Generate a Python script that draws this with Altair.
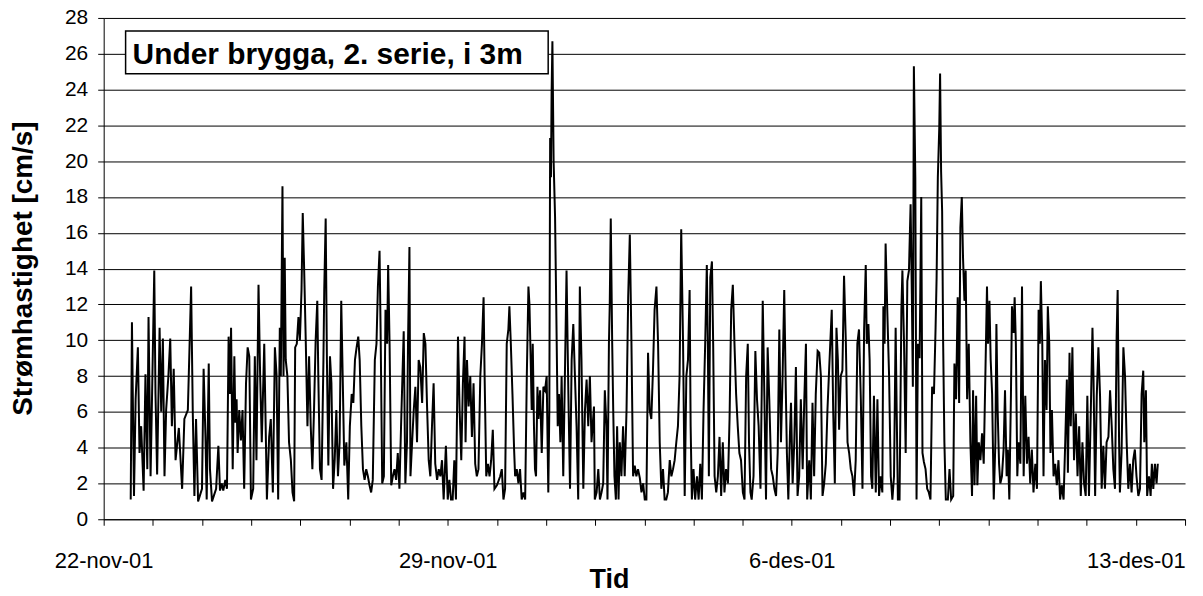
import altair as alt
import pandas as pd

# ---- data (hours after 22-nov-2001 00:00, speed cm/s) ----
hours = [
13.2,13.8,14.8,15.6,16.7,17.5,18.3,19.5,20.4,21.3,21.9,22.9,23.5,24.7,25.3,26.1,27.3,28.1,28.9,29.7,
30.5,31.6,32.5,33.3,34.2,35.1,36.7,38.3,39.4,41.1,42.7,43.5,44.3,45.1,46.1,48.0,48.8,49.7,50.3,51.3,
51.9,52.9,54.9,56.0,56.8,57.6,58.4,59.4,60.2,61.0,61.7,62.2,63.0,63.8,64.3,64.9,65.4,66.2,67.0,67.8,
68.6,69.5,70.3,71.1,71.9,73.0,73.8,74.6,75.6,76.4,77.2,78.4,78.9,79.7,80.8,81.6,82.6,83.6,84.4,85.2,
86.0,86.5,87.3,87.8,88.4,88.9,89.7,90.5,91.4,92.2,93.0,93.5,94.3,95.1,95.8,96.6,97.2,97.9,98.7,99.5,
100.3,101.1,101.9,102.7,103.5,104.3,104.8,105.6,106.4,107.3,107.7,108.4,109.0,109.7,110.5,111.2,112.0,112.8,113.6,114.4,
115.2,116.0,116.7,117.5,118.5,119.4,120.2,121.1,121.9,122.7,123.5,124.3,125.0,125.8,126.6,127.4,128.2,129.0,129.8,130.6,
131.4,132.4,133.2,133.9,134.7,135.2,136.0,136.8,137.6,138.4,138.9,139.6,140.4,141.2,142.0,142.8,143.6,144.4,145.2,146.5,
147.3,148.1,148.6,149.3,149.8,150.6,151.4,152.2,153.0,153.8,154.6,155.5,156.3,157.1,157.9,158.7,159.5,160.3,161.1,161.9,
162.8,163.6,164.4,165.2,166.0,167.1,168.0,168.8,169.6,170.4,171.2,172.0,173.0,173.8,174.6,175.4,176.2,176.7,177.4,178.2,
179.0,179.8,180.6,181.4,182.2,183.0,183.9,184.7,185.5,186.0,186.8,187.6,188.4,189.2,190.0,190.8,192.0,193.6,194.4,195.2,
196.0,196.8,197.6,198.1,198.8,199.6,200.4,200.9,201.7,202.5,203.3,204.1,205.0,205.8,206.6,207.4,207.9,208.5,209.0,209.5,
210.1,210.6,211.1,211.8,212.3,213.1,213.9,214.7,215.5,216.3,217.1,217.6,218.0,218.4,218.7,219.1,219.7,220.4,221.0,221.7,
222.3,223.0,223.6,224.4,225.2,226.0,226.9,227.7,228.5,229.3,230.1,230.9,231.7,232.5,233.3,234.2,235.0,235.8,236.6,237.4,
238.2,239.4,239.8,240.7,241.5,242.3,243.1,243.9,244.7,245.5,246.0,246.7,247.1,247.6,248.3,248.8,249.4,250.1,250.7,251.4,
252.0,252.8,253.6,254.4,255.3,256.1,256.9,257.7,258.5,259.3,260.1,260.9,261.8,262.6,263.4,264.2,265.0,265.8,266.6,267.4,
268.2,269.0,269.9,270.7,271.5,272.3,273.1,273.9,274.7,275.5,276.4,277.2,278.0,278.8,279.6,280.4,281.2,282.0,282.9,283.7,
284.5,285.3,286.1,286.6,287.2,288.0,288.8,289.7,290.5,291.3,292.1,292.9,293.7,294.5,295.0,295.5,296.2,297.0,297.6,298.3,
299.1,299.9,300.7,301.5,302.3,303.1,303.9,304.8,305.6,306.4,307.2,308.0,308.8,309.6,310.4,311.2,312.1,312.9,313.7,314.5,
315.1,315.8,316.4,317.3,318.2,319.0,319.8,320.7,321.3,321.8,322.6,323.4,324.2,325.0,325.9,326.7,327.5,328.3,329.1,329.9,
330.7,331.5,332.3,333.1,333.6,334.3,335.1,335.6,336.4,337.2,338.0,338.8,339.6,340.4,341.3,342.1,342.9,343.5,344.5,345.3,
346.1,346.9,347.7,348.6,349.4,350.2,351.0,351.8,352.6,353.4,354.2,355.5,356.2,357.0,357.8,358.5,359.1,359.9,360.7,361.5,
362.4,363.2,364.0,364.8,365.6,366.4,367.2,368.0,368.8,369.7,370.5,371.3,372.1,372.6,373.4,374.0,374.7,375.3,376.1,377.0,
377.8,378.6,379.4,380.2,380.7,381.3,381.8,382.6,383.5,384.3,385.1,385.9,386.7,387.2,387.8,388.6,389.5,390.0,390.8,391.6,
392.4,393.2,394.0,394.6,395.1,395.6,396.3,396.9,397.6,398.4,399.2,399.8,400.5,401.3,402.1,402.9,403.7,404.5,405.4,406.2,
406.7,407.3,408.0,408.4,408.9,409.4,409.9,410.5,411.2,412.2,413.0,413.8,414.8,415.4,416.2,417.0,417.7,418.3,419.0,419.6,
420.3,420.9,421.6,422.4,423.2,424.0,424.5,425.2,426.0,426.6,427.3,428.1,428.9,429.7,430.5,431.3,431.8,432.5,433.1,433.8,
434.6,435.4,435.9,436.5,437.2,437.8,438.6,439.4,440.1,440.9,441.5,442.2,443.0,443.5,444.3,444.8,445.4,446.1,446.7,447.6,
448.4,449.2,450.0,450.8,451.6,452.4,453.2,454.0,454.9,455.7,456.5,457.1,457.6,458.3,458.9,459.6,460.4,461.0,461.7,462.3,
463.0,463.8,464.6,465.4,466.2,467.0,467.8,468.7,469.5,470.3,470.8,471.6,472.2,473.0,473.8,474.7,475.5,476.3,477.1,477.9,
478.7,479.5,480.3,481.1,482.0,482.8,483.3,484.1,484.9,485.7,486.5,487.3,488.1,488.9,489.7,490.6,491.4,492.2,493.0,493.8,
494.6,495.1,495.8,496.2,497.0,497.9,498.7,499.5,500.3,501.1,501.9,502.7,503.5,504.3,505.2,506.0,506.8,507.6,508.1,508.9,
509.5,510.4,511.2,511.8,512.5,513.3,514.1,514.7,
]

speed = [
1.1,11.0,1.3,6.7,9.6,3.7,5.2,1.6,8.1,2.8,11.3,2.4,6.1,13.9,7.0,2.5,10.7,6.0,10.1,2.4,
6.1,8.0,10.1,5.2,8.4,3.3,5.1,1.7,5.6,6.1,13.0,6.0,1.3,5.6,1.0,1.7,8.4,4.6,1.1,8.7,
2.8,1.0,1.7,4.1,1.6,2.0,1.6,2.2,1.7,10.2,7.0,10.7,2.8,9.1,5.4,6.7,3.7,6.1,4.4,6.1,
1.7,7.6,9.6,9.1,1.1,1.7,9.1,3.3,13.1,8.0,4.3,9.8,6.5,1.1,4.6,5.6,1.5,9.6,8.1,1.1,
10.7,8.0,18.6,8.0,14.6,8.9,8.0,4.3,3.3,1.5,1.0,9.6,9.8,11.3,10.0,12.8,17.1,13.9,9.8,5.2,
9.1,5.2,2.8,6.1,10.0,12.2,8.0,2.8,2.2,8.9,12.8,16.8,8.9,3.0,9.1,7.6,1.7,3.3,6.1,2.4,
4.3,12.2,8.0,3.0,4.3,1.1,5.2,7.0,6.5,8.9,9.6,10.2,8.9,5.2,2.8,2.2,2.8,2.4,1.9,1.5,
2.2,8.9,9.8,13.0,15.0,10.7,2.0,2.4,11.7,9.8,14.2,9.8,1.9,2.4,2.8,2.2,3.7,1.7,5.2,10.5,
2.0,4.3,9.8,15.2,2.4,4.3,6.1,7.4,4.3,8.9,8.5,6.5,10.4,9.8,6.3,3.3,2.4,5.2,7.6,3.1,
2.2,2.8,2.4,3.3,1.1,4.1,1.1,2.2,1.1,1.1,3.3,1.1,10.2,6.1,3.3,7.6,10.2,4.3,8.9,6.3,
8.0,4.6,7.6,3.1,2.4,2.8,8.0,9.8,12.4,8.0,2.4,3.1,2.4,3.3,5.0,1.7,1.9,2.4,2.8,1.1,
1.7,9.8,10.6,11.9,9.8,7.0,3.9,2.4,2.8,2.0,2.8,1.1,1.5,1.1,8.0,13.0,12.0,8.9,6.1,9.8,
5.2,2.8,2.4,7.4,5.6,7.2,3.7,7.4,7.2,8.0,1.5,6.1,21.3,19.1,23.7,26.7,20.0,16.9,11.7,5.2,
7.0,4.3,8.0,2.4,8.0,13.9,7.0,1.7,8.9,10.9,8.0,5.2,1.1,13.0,8.9,1.7,6.1,7.8,5.2,8.0,
4.3,6.3,1.1,1.5,2.8,1.1,1.5,2.0,7.2,5.2,1.1,9.8,12.0,16.8,9.8,6.1,2.4,1.1,5.2,1.1,
4.3,2.4,5.2,2.4,6.1,12.4,15.9,9.8,2.4,3.0,2.4,2.8,2.3,1.5,2.0,1.1,1.1,9.3,6.1,5.6,
8.3,11.7,13.0,9.8,4.3,1.7,2.8,1.1,1.1,1.5,3.3,2.4,2.8,3.3,4.3,5.2,8.0,16.2,9.8,1.3,
8.0,8.9,12.8,5.2,1.1,2.8,1.1,2.4,1.1,3.1,1.1,6.1,9.8,14.2,9.8,2.4,13.5,14.4,9.8,2.4,
1.5,2.4,4.6,1.3,4.3,1.5,2.8,2.0,5.6,11.7,13.1,9.8,7.0,5.2,3.7,3.3,1.5,1.1,8.0,9.8,
4.3,1.5,1.1,2.4,9.4,6.7,5.2,1.7,7.0,12.2,6.9,1.1,9.6,6.7,2.8,2.4,1.7,1.3,3.7,10.6,
4.3,8.0,12.8,7.0,3.7,1.1,4.8,6.5,2.0,4.3,8.5,1.3,2.4,6.7,2.8,6.7,9.8,1.1,3.3,1.1,
6.5,2.4,7.0,9.4,9.3,8.0,1.3,2.0,3.1,6.1,8.3,11.7,6.1,2.0,10.7,8.9,5.0,8.0,8.3,13.6,
9.8,4.3,3.7,2.8,2.4,1.3,3.3,9.8,10.6,6.7,1.7,10.6,14.2,9.8,10.9,8.9,2.4,1.7,6.9,1.5,
6.7,1.3,2.4,1.5,11.9,9.8,15.4,11.7,8.0,2.4,1.1,2.4,10.7,6.1,1.1,1.1,11.7,13.9,9.8,3.7,
13.3,13.9,17.6,12.6,7.4,25.3,19.1,1.1,9.8,9.0,18.0,3.7,3.2,2.8,1.7,1.5,1.1,7.4,7.0,10.7,
13.5,19.1,21.9,24.9,19.4,17.2,9.8,4.3,1.1,1.1,2.8,1.1,1.3,8.7,6.7,12.4,6.5,16.3,18.0,14.6,
12.2,13.9,6.7,9.8,4.3,1.3,7.2,1.9,6.9,1.9,4.3,3.3,4.8,3.1,8.0,13.0,9.8,12.2,8.9,7.0,
1.1,4.3,10.9,6.1,3.1,2.0,2.4,3.9,7.2,2.4,3.9,1.1,7.0,11.9,10.4,12.4,9.8,2.4,4.3,3.1,
13.0,2.4,6.9,3.1,4.6,2.0,3.9,1.5,3.1,1.7,11.7,9.8,13.3,9.8,2.4,8.9,6.1,11.9,9.8,3.7,
6.1,2.4,3.1,1.9,3.3,1.1,1.9,1.1,4.3,7.8,2.6,9.3,5.2,9.6,3.3,5.9,2.4,5.2,1.3,4.3,
2.0,1.3,6.9,1.3,6.1,10.7,8.0,1.3,6.9,9.6,6.9,1.7,4.1,1.7,4.3,4.6,7.2,5.2,2.8,1.7,
10.2,12.8,4.3,1.5,3.7,9.6,8.0,4.3,1.7,3.1,1.5,3.3,3.9,2.4,1.3,1.7,7.0,8.3,4.3,7.2,
1.3,2.4,1.3,3.1,1.7,3.1,2.0,3.1,
]

y_ticks = list(range(0, 29, 2))
month_names = ["jan", "feb", "mar", "apr", "mai", "jun", "jul", "aug", "sep", "okt", "nov", "des"]
chart_title = "Under brygga, 2. serie, i 3m"
x_title = "Tid"
y_title = "Strømhastighet [cm/s]"

n = min(len(hours), len(speed))
START_MS = int(pd.Timestamp("2001-11-22", tz="UTC").value // 10**6)
DAY_MS = 86400000
END_MS = START_MS + 22 * DAY_MS
day_ticks = [START_MS + d * DAY_MS for d in range(23)]

df = pd.DataFrame({
    "t": [START_MS + h * 3600000 for h in hours[:n]],
    "v": speed[:n],
})

FONT = "Liberation Sans"
months_js = "[" + ",".join("'%s'" % m for m in month_names) + "]"
label_expr = (
    f"((datum.value - {START_MS}) % {7 * DAY_MS} == 0) ? "
    f"(utcdate(datum.value) + '-' + {months_js}[utcmonth(datum.value)] + '-01') : ''"
)

line = alt.Chart(df).mark_line(color="black", strokeWidth=2).encode(
    x=alt.X(
        "t:T",
        scale=alt.Scale(type="utc", domain=[START_MS, END_MS]),
        axis=alt.Axis(
            values=day_ticks,
            labelExpr=label_expr,
            labelOverlap=False,
            labelFlush=False,
            labelFontSize=22,
            labelFont=FONT,
            labelColor="black",
            labelPadding=25,
            tickSize=6,
            tickColor="black",
            domainColor="black",
            grid=False,
            title=x_title,
            titleFont=FONT,
            titleFontSize=27,
            titleFontWeight="bold",
            titleColor="black",
            titleBaseline="alphabetic",
            titleX=507,
            titleY=68,
        ),
    ),
    y=alt.Y(
        "v:Q",
        scale=alt.Scale(domain=[0, 28], nice=False),
        axis=alt.Axis(
            values=y_ticks,
            labelFontSize=21,
            labelFont=FONT,
            labelColor="black",
            labelPadding=10,
            tickSize=6,
            tickColor="black",
            domainColor="black",
            grid=True,
            gridColor="black",
            gridWidth=1,
            title=y_title,
            titleFont=FONT,
            titleFontSize=28,
            titleFontWeight="bold",
            titleColor="black",
            titleAngle=270,
            titleBaseline="middle",
            titleAlign="center",
            titleX=-80,
            titleY=251,
        ),
    ),
)

label_df = pd.DataFrame({"label": [chart_title]})
box = alt.Chart(label_df).mark_rect(fill="white", stroke="black", strokeWidth=1.5).encode(
    x=alt.value(22), x2=alt.value(446), y=alt.value(13), y2=alt.value(56)
)
text = alt.Chart(label_df).mark_text(
    align="left", baseline="alphabetic", font=FONT, fontSize=30, fontWeight="bold", color="black"
).encode(x=alt.value(29), y=alt.value(46), text="label:N")

chart = alt.layer(line, box, text).properties(
    width=1085,
    height=503,
    autosize=alt.AutoSizeParams(type="none"),
    padding={"left": 96, "top": 9, "right": 10, "bottom": 74},
    background="white",
).configure_view(stroke=None)

chart.save("out.html", embed_options={"renderer": "svg", "actions": False})
